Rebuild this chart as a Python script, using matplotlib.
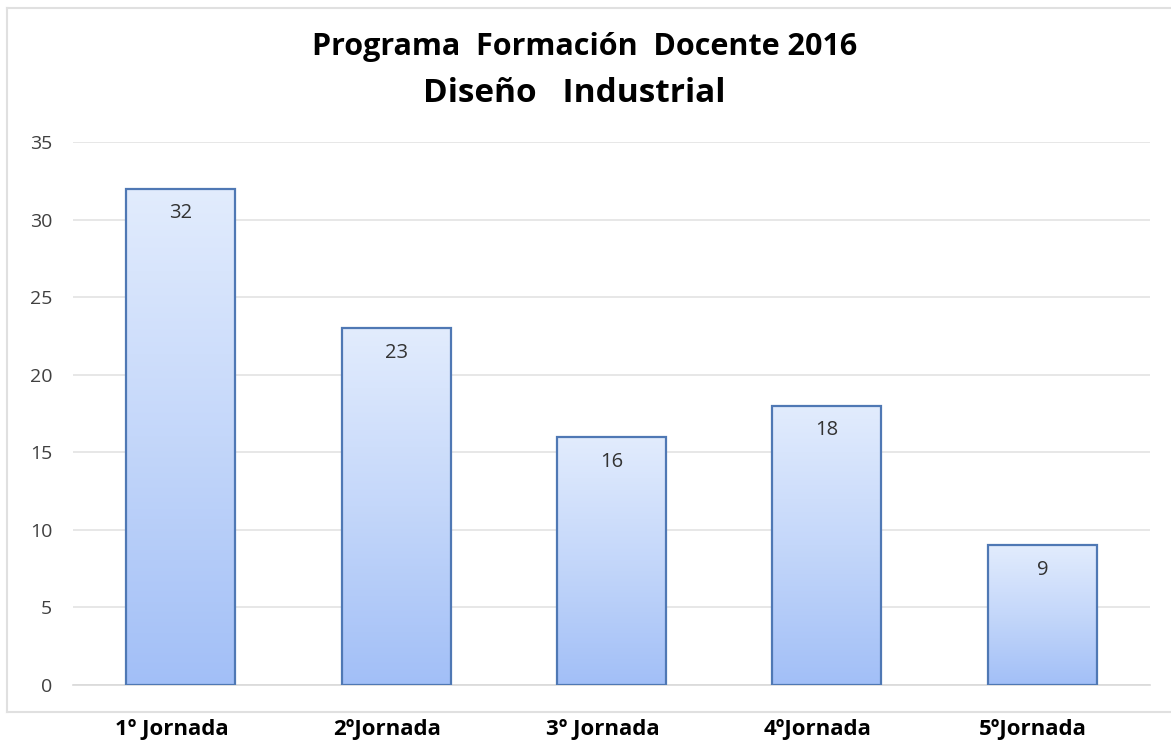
import matplotlib
matplotlib.use("Agg")
import matplotlib.pyplot as plt
import numpy as np
from matplotlib.colors import LinearSegmentedColormap
from matplotlib.lines import Line2D

categories = ["1º Jornada", "2ºJornada", "3º Jornada", "4ºJornada", "5ºJornada"]
values = [32, 23, 16, 18, 9]
yticks = [0, 5, 10, 15, 20, 25, 30, 35]
title_line1 = "Programa  Formación  Docente 2016"
title_line2 = "Diseño   Industrial"

W, H = 1171, 742
fig = plt.figure(figsize=(W / 100, H / 100), dpi=100)
fig.patch.set_facecolor("white")

ax = fig.add_axes([73 / W, 1 - 685 / H, (1150 - 73) / W, (685 - 142) / H])
x = np.arange(len(categories))
bars = ax.bar(x, values, width=0.506, facecolor="none", edgecolor="#4f78b4",
              linewidth=1.6, zorder=3)

cmap = LinearSegmentedColormap.from_list("g", ["#a2bff7", "#c4d7fa", "#e2ecfd"])
grad = np.linspace(0, 1, 256).reshape(-1, 1)
for b, v in zip(bars, values):
    x0, w, h = b.get_x(), b.get_width(), b.get_height()
    im = ax.imshow(grad, cmap=cmap, aspect="auto", origin="lower",
                   extent=[x0, x0 + w, 0, h], zorder=2)
    im.set_clip_path(b)
    ax.text(x0 + w / 2, h - 0.95, str(v), ha="center", va="top",
            fontsize=14.5, color="#333333", family="Open Sans", zorder=4)

ax.set_xlim(-0.5, len(categories) - 0.5)
ax.set_ylim(0, 35)
ax.set_yticks(yticks)
ax.set_yticklabels([str(t) for t in yticks], fontsize=14, color="#404040",
                   family="Open Sans")
ax.set_xticks(x)
ax.set_xticklabels([])
for xi, cat in zip(x, categories):
    ax.annotate(cat, xy=(xi, 0), xycoords="data", xytext=(-9, -45),
                textcoords="offset pixels", ha="center", va="center",
                fontsize=16, fontweight="bold", color="black",
                family="Open Sans", annotation_clip=False)
ax.tick_params(axis="x", length=0)
ax.tick_params(axis="y", length=0, pad=15)
ax.grid(axis="y", color="#e3e3e3", linewidth=1.2, zorder=0)
ax.set_axisbelow(True)
for s in ["top", "right", "left"]:
    ax.spines[s].set_visible(False)
ax.spines["bottom"].set_color("#d9d9d9")
ax.spines["bottom"].set_linewidth(1.2)

fig.text(585 / W, 1 - 47 / H, title_line1, ha="center", va="center",
         fontsize=22, fontweight="bold", family="Open Sans")
fig.text(574 / W, 1 - 93 / H, title_line2, ha="center", va="center",
         fontsize=24, fontweight="bold", family="Open Sans")

# outer chart border
border_kw = dict(color="#e0e0e0", linewidth=1.5, transform=fig.transFigure)
fig.add_artist(Line2D([7 / W, 1.0], [1 - 8 / H, 1 - 8 / H], **border_kw))
fig.add_artist(Line2D([7 / W, 7 / W], [1 - 8 / H, 1 - 712 / H], **border_kw))
fig.add_artist(Line2D([7 / W, 1.0], [1 - 712 / H, 1 - 712 / H], **border_kw))

fig.savefig("out.png", dpi=100)
